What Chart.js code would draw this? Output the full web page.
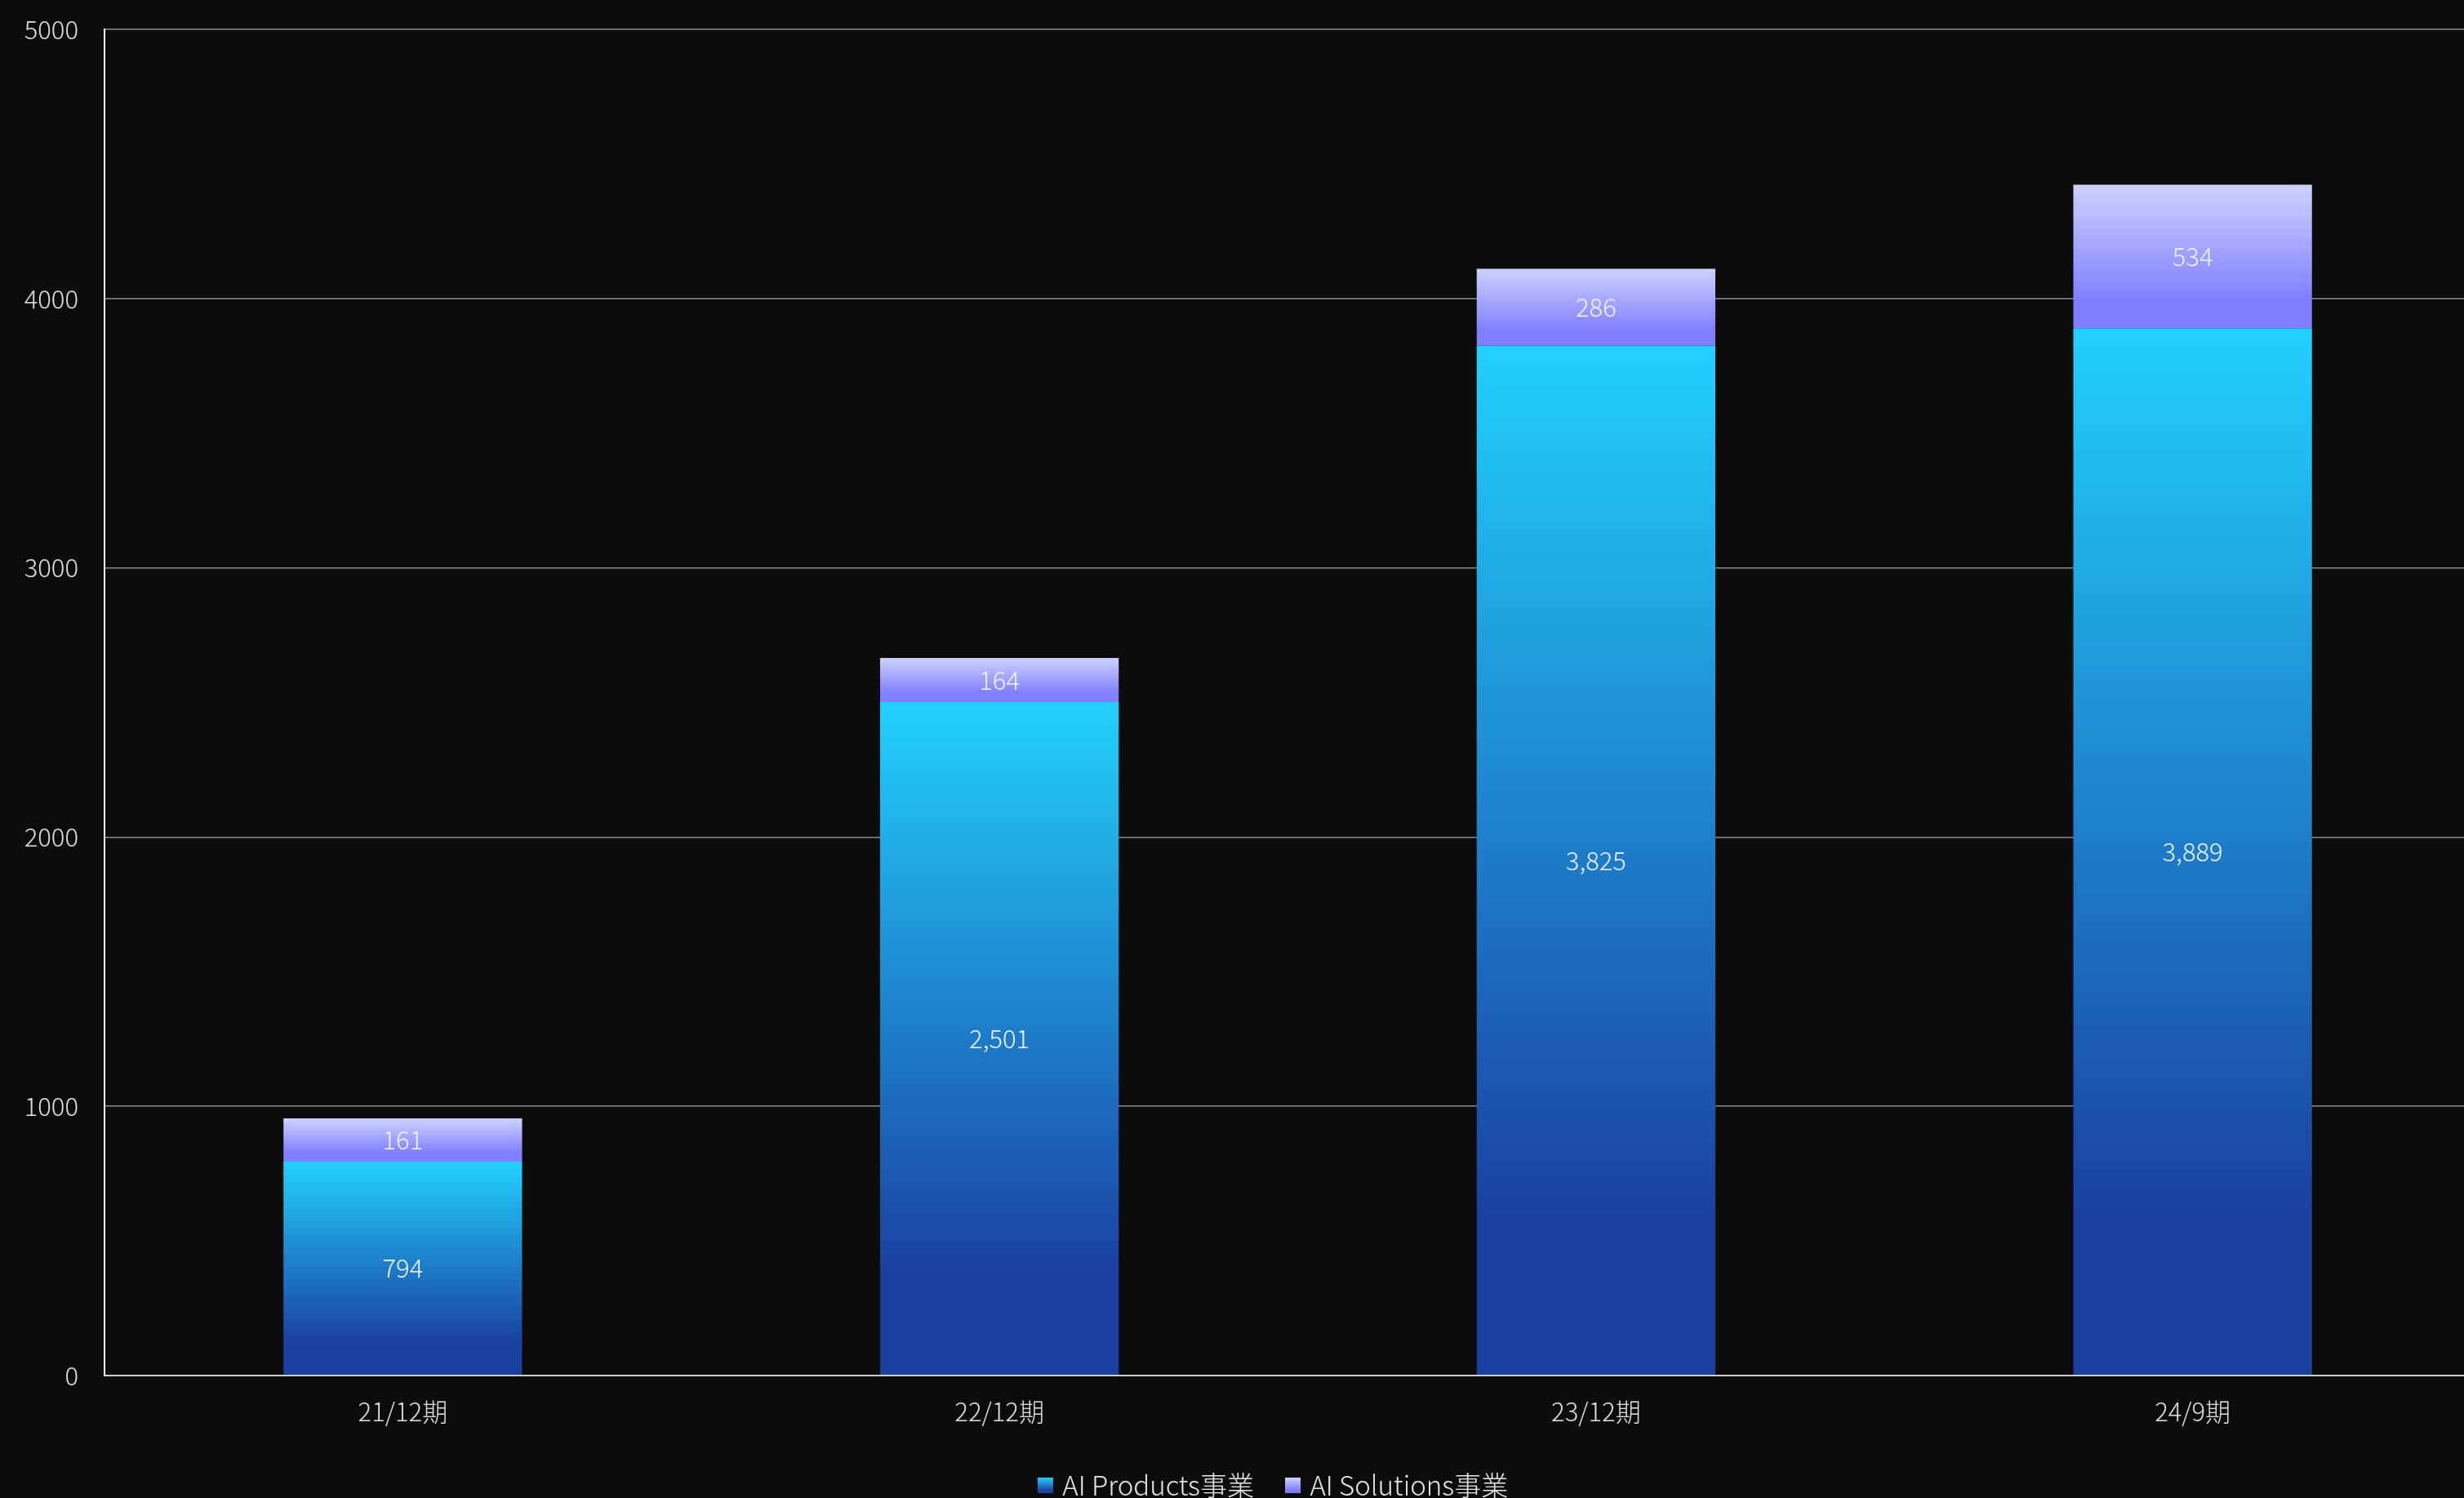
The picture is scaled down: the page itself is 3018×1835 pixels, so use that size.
<!DOCTYPE html>
<html>
<head>
<meta charset="utf-8">
<script src="https://cdn.jsdelivr.net/npm/chart.js@4.4.1/dist/chart.umd.min.js"></script>
<style>
    html, body { margin: 0; padding: 0; background: #0c0c0c; overflow: hidden; }
    #wrap { width: 3018px; height: 1835px; overflow: hidden; }
    /* the plot area of the original runs a little past the right edge */
    #inner { width: 3051px; height: 1835px; position: relative; }
</style>
</head>
<body>
<div id="wrap"><div id="inner"><canvas id="salesChart"></canvas></div></div>
<script>
// Data
const periods = ['21/12期', '22/12期', '23/12期', '24/9期'];
const productsSales = [794, 2501, 3825, 3889];
const solutionsSales = [161, 164, 286, 534];
const seriesNames = ['AI Products事業', 'AI Solutions事業'];

const FONT = "'Noto Sans CJK JP', 'Noto Sans', sans-serif";
const blueStops = [[0, '#22d0ff'], [0.85, '#1a40a0'], [1, '#1a40a0']];
const purpleStops = [[0, '#cdd1ff'], [0.8, '#8080ff'], [1, '#8080ff']];

// gradient from top to bottom of each stacked segment
function segmentGradient(context, stops) {
    const chart = context.chart;
    if (!chart.chartArea || context.type !== 'data') return stops[0][1];
    const yScale = chart.scales.y;
    const i = context.dataIndex;
    const start = context.datasetIndex === 0 ? 0 : productsSales[i];
    const end = start + context.raw;
    const g = chart.ctx.createLinearGradient(0, yScale.getPixelForValue(end), 0, yScale.getPixelForValue(start));
    stops.forEach(s => g.addColorStop(s[0], s[1]));
    return g;
}

function legendIcon(stops) {
    const c = document.createElement('canvas');
    c.width = 19;
    c.height = 19;
    const ictx = c.getContext('2d');
    const g = ictx.createLinearGradient(0, 0, 0, 19);
    stops.forEach(s => g.addColorStop(s[0], s[1]));
    ictx.fillStyle = g;
    ictx.fillRect(0, 0, 19, 19);
    return c;
}
const legendIcons = [legendIcon(blueStops), legendIcon(purpleStops)];

// values drawn in the middle of each segment
const segmentLabels = {
    id: 'segmentLabels',
    afterDatasetsDraw(chart) {
        const ctx = chart.ctx;
        ctx.save();
        ctx.font = `300 31px ${FONT}`;
        ctx.fillStyle = '#f2f2f2';
        ctx.textAlign = 'center';
        ctx.textBaseline = 'middle';
        chart.data.datasets.forEach((ds, di) => {
            chart.getDatasetMeta(di).data.forEach((bar, i) => {
                const p = bar.getProps(['x', 'y', 'base'], true);
                ctx.fillText(ds.data[i].toLocaleString('en-US'), p.x, (p.y + p.base) / 2);
            });
        });
        ctx.restore();
    }
};

// put the legend where the original has it (bottom edge, slightly right of centre)
const legendShift = {
    id: 'legendShift',
    beforeDraw(chart) {
        const lg = chart.legend;
        if (!lg) return;
        const h = lg.bottom - lg.top;
        lg.top = 1835 - h + 11;
        lg.bottom = lg.top + h;
        const dx = 1562 - (lg.left + lg.right) / 2;
        lg.left += dx;
        lg.right += dx;
    }
};

const ctx = document.getElementById('salesChart').getContext('2d');
new Chart(ctx, {
    type: 'bar',
    data: {
        labels: periods,
        datasets: [
            {
                label: seriesNames[0],
                data: productsSales,
                backgroundColor: c => segmentGradient(c, blueStops),
                borderWidth: 0,
                barPercentage: 0.5,
                categoryPercentage: 0.8
            },
            {
                label: seriesNames[1],
                data: solutionsSales,
                backgroundColor: c => segmentGradient(c, purpleStops),
                borderWidth: 0,
                barPercentage: 0.5,
                categoryPercentage: 0.8
            }
        ]
    },
    options: {
        responsive: true,
        maintainAspectRatio: false,
        animation: false,
        layout: { padding: { left: 28, top: 36, right: 0, bottom: 0 } },
        plugins: {
            tooltip: { enabled: false },
            legend: {
                position: 'bottom',
                labels: {
                    usePointStyle: true,
                    pointStyleWidth: 8,
                    color: '#e6e6e6',
                    font: { family: FONT, size: 33, weight: 300 },
                    padding: 44,
                    generateLabels: chart => chart.data.datasets.map((ds, i) => ({
                        text: ds.label,
                        fillStyle: 'transparent',
                        strokeStyle: 'transparent',
                        lineWidth: 0,
                        pointStyle: legendIcons[i],
                        fontColor: '#e6e6e6',
                        hidden: false,
                        datasetIndex: i
                    }))
                }
            }
        },
        scales: {
            x: {
                stacked: true,
                afterFit: scale => { scale.height -= 26; },
                grid: { display: false, drawTicks: false },
                border: { color: '#cccccc', width: 2 },
                ticks: { color: '#e0e0e0', font: { family: FONT, size: 31, weight: 300 }, padding: 26 }
            },
            y: {
                stacked: true,
                min: 0,
                max: 5000,
                afterFit: scale => {
                    scale.width = 100;
                    scale.paddingTop = 0;
                    scale.paddingBottom = 0;
                },
                ticks: {
                    stepSize: 1000,
                    callback: v => String(v),
                    color: '#e0e0e0',
                    font: { family: FONT, size: 31, weight: 300 },
                    padding: 32
                },
                grid: { color: '#8a8a8a', lineWidth: 1.5, drawTicks: false },
                border: { color: '#ffffff', width: 2 }
            }
        }
    },
    plugins: [segmentLabels, legendShift]
});
</script>
</body>
</html>
